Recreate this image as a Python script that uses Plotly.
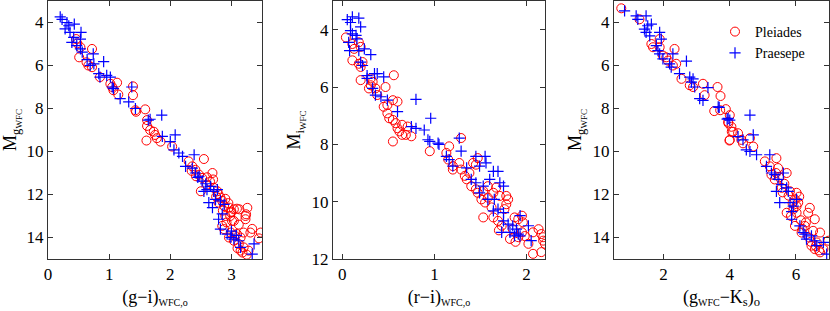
import plotly.graph_objects as go

# ---------------- Panel 1: (g-i) vs M_g ----------------
gi_ple = [0.46,0.48,0.53,0.72,0.51,0.63,0.66,0.72,0.85,1.02,1.13,1.05,1.07,1.15,1.39,1.39,1.43,1.44,1.59,1.62,
          1.62,1.67,1.73,1.61,1.75,1.78,1.84,2.03,2.30,2.55,2.36,2.41,2.47,2.52,2.69,2.50,2.60,2.71,2.77,2.79,
          2.82,2.85,2.79,2.88,2.96,3.04,3.09,2.99,2.90,3.23,3.23,3.01,2.85,2.88,2.99,3.09,3.20,3.31,2.96,3.04,
          3.12,3.20,3.28,3.15,3.45,2.60,2.65,2.75,2.90,2.95,3.00,2.92,3.05,3.15,3.10,3.18,3.25,2.98,2.86,3.12,
          2.70,2.35,2.42,3.26,3.13,3.24,3.04,3.34,3.48]
Mg_ple = [4.77,4.97,5.15,5.23,5.62,5.85,6.00,6.08,6.54,6.85,6.80,7.00,7.15,7.35,6.97,7.38,8.08,8.15,8.04,8.54,
          8.81,9.00,9.08,9.49,9.23,9.38,9.54,9.77,10.46,10.35,10.69,10.85,11.08,11.23,11.00,11.85,11.54,11.69,11.85,12.00,
          12.15,12.30,12.38,12.54,12.61,12.69,12.66,12.84,13.00,13.00,13.15,13.23,13.46,13.61,13.77,13.84,13.77,13.77,14.00,14.15,
          14.30,14.46,14.61,14.61,14.04,11.20,11.40,12.10,12.20,12.40,12.80,13.30,13.90,14.00,14.50,14.70,14.80,13.00,12.75,13.40,
          11.30,10.90,11.15,12.62,12.69,12.92,13.23,13.60,13.77]
gi_pra = [0.20,0.23,0.31,0.34,0.43,0.28,0.36,0.54,0.42,0.53,0.39,0.47,0.53,0.56,0.74,0.91,0.64,0.69,0.75,0.83,
          0.85,0.96,1.02,1.05,1.07,1.18,1.32,1.37,1.43,1.64,1.67,1.86,1.87,2.00,2.08,2.06,2.14,2.20,2.39,2.25,
          2.36,2.41,2.47,2.52,2.55,2.60,2.66,2.71,2.77,2.63,2.69,2.74,2.82,2.88,2.79,2.82,2.93,2.99,3.04,3.12,
          3.15,3.34,3.37,2.58,2.45,2.85,3.00,3.08]
Mg_pra = [3.74,3.85,4.00,4.15,4.08,4.30,4.46,4.46,4.69,4.77,4.92,5.08,5.23,5.38,5.46,5.82,5.73,6.00,5.92,6.38,
          6.54,6.46,6.54,7.00,7.08,7.54,7.69,7.00,8.00,8.54,8.50,8.31,9.30,9.54,9.23,9.92,10.07,10.23,10.15,10.69,
          10.77,11.00,11.15,11.38,11.85,11.77,11.62,11.85,11.77,12.38,12.61,12.23,12.30,12.46,13.15,13.61,13.84,14.00,14.08,14.15,
          14.46,14.77,14.30,11.50,11.20,12.90,13.70,13.90]

# ---------------- Panel 2: (r-i) vs M_i ----------------
ri_ple = [0.04,0.11,0.18,0.13,0.20,0.11,0.18,0.20,0.22,0.20,0.31,0.33,0.31,0.29,0.36,0.47,0.56,0.38,0.45,0.49,
          0.55,0.60,0.49,0.51,0.55,0.58,0.65,0.71,0.60,0.62,0.65,0.69,0.75,0.55,0.95,1.29,1.16,1.13,1.15,1.20,
          1.20,1.27,1.29,1.38,1.35,1.42,1.45,1.47,1.40,1.45,1.47,1.53,1.58,1.51,1.55,1.58,1.64,1.67,1.71,1.78,
          1.80,1.78,1.53,1.64,1.69,1.73,1.76,1.85,1.91,1.87,1.91,1.95,1.96,1.95,2.07,2.13,2.16,2.18,2.18,2.20,
          2.16,2.07,2.02,1.33,1.62,1.82,1.88,1.70,1.98]
Mi_ple = [4.27,4.50,4.44,4.67,4.60,5.07,5.19,5.30,5.13,5.76,5.70,5.82,5.94,6.05,6.05,6.00,5.59,6.28,6.69,6.63,
          6.46,6.51,6.92,7.09,7.15,7.26,7.32,7.38,7.44,7.55,7.67,7.67,7.72,7.90,8.24,7.78,8.07,8.30,8.53,8.76,
          8.88,8.65,8.88,9.00,9.22,8.65,8.71,8.48,9.46,9.57,9.69,9.63,9.46,9.92,10.03,9.86,9.69,9.51,9.80,9.80,
          9.92,10.09,10.55,10.55,10.67,10.84,10.26,10.96,11.24,10.55,10.61,10.49,10.72,11.07,11.07,10.96,11.13,11.24,11.36,11.47,
          11.76,11.82,11.47,9.10,10.20,11.30,11.40,11.00,11.20]
ri_pra = [0.055,0.11,0.18,0.09,0.20,0.09,0.11,0.15,0.07,0.16,0.08,0.18,0.24,0.31,0.20,0.22,0.27,0.35,0.38,0.45,
          0.27,0.33,0.36,0.42,0.49,0.60,0.80,0.96,0.75,0.80,0.89,0.93,0.95,1.04,1.05,1.27,1.29,1.13,1.16,1.20,
          1.35,1.45,1.49,1.55,1.56,1.64,1.69,1.40,1.45,1.53,1.60,1.71,1.75,1.49,1.58,1.65,1.64,1.69,1.75,1.75,
          1.73,1.80,1.85,1.89,1.82,1.87,1.91,1.93,2.02,2.05,1.93]
Mi_pra = [3.65,3.55,3.60,3.75,3.90,4.03,4.15,4.20,4.44,4.32,4.73,4.73,4.67,4.87,5.13,5.25,5.60,5.53,5.53,5.65,
          5.70,6.05,6.28,6.34,6.46,6.86,6.43,7.09,7.38,7.44,7.50,7.84,7.90,7.96,8.00,7.78,8.24,8.42,8.53,8.76,
          8.82,8.42,8.76,8.42,8.65,8.94,8.94,9.22,9.34,9.46,9.22,9.34,9.46,9.69,9.92,9.92,10.32,10.26,10.38,10.67,
          11.07,10.78,10.84,10.96,11.07,11.19,11.13,11.19,10.84,11.36,10.49]

# ---------------- Panel 3: (g-Ks) vs M_g ----------------
gk_ple = [0.72,1.27,1.63,1.68,1.88,1.88,2.33,1.98,2.08,2.13,2.28,2.38,2.54,2.89,2.79,3.19,3.24,3.63,3.72,3.53,
          3.71,3.88,3.96,4.06,3.99,4.00,3.95,4.05,4.10,4.25,4.00,4.35,4.40,4.61,4.71,5.06,5.21,5.41,5.46,5.26,
          5.36,5.72,5.57,5.82,6.02,5.97,6.07,6.02,5.92,6.02,5.72,6.42,6.37,6.57,5.97,6.27,6.17,6.52,6.73,6.63,
          6.47,6.57,6.83,6.73,6.98,5.50,5.65,5.78,5.90,6.10,6.15,6.30,6.40,6.60,5.85,6.20,6.45,6.70,5.40,5.60]
Mgk_ple = [3.34,3.85,5.00,5.15,5.15,4.77,5.23,5.54,5.62,5.77,6.00,5.92,6.62,7.00,6.92,6.85,7.38,7.00,7.42,8.12,
           8.08,8.03,8.69,9.08,9.49,8.31,8.62,8.85,9.08,9.15,9.46,9.46,9.62,9.38,9.77,10.46,10.69,10.31,10.77,11.08,
           11.30,11.00,11.69,11.85,11.92,12.23,12.38,12.54,12.69,12.85,12.85,12.62,12.85,13.15,13.46,13.46,13.77,13.69,13.77,14.23,
           14.38,14.54,14.54,14.69,14.15,11.20,11.50,12.05,12.40,12.10,13.20,13.30,14.00,14.40,13.00,13.60,14.20,14.60,11.00,11.90]
gk_pra = [0.82,1.17,1.22,1.47,1.42,1.52,1.63,1.47,1.58,1.88,1.93,1.78,1.83,1.88,2.28,1.98,2.18,2.23,2.69,2.48,
          2.79,2.89,2.84,2.94,3.34,3.09,3.19,3.65,3.95,4.00,4.61,4.25,4.40,4.71,4.50,4.61,4.81,5.11,5.21,5.26,
          5.36,5.46,5.57,5.62,5.72,5.77,5.41,5.51,5.82,5.92,5.87,6.02,6.12,6.22,6.27,6.32,6.47,6.57,6.63,6.83,
          6.93,5.87,3.68,3.92]
Mgk_pra = [3.46,3.69,3.85,3.69,4.31,4.15,4.08,4.46,4.62,4.46,4.77,5.08,5.31,5.46,5.46,5.69,5.92,6.08,5.80,6.38,
           6.54,6.62,6.77,7.00,7.03,7.54,7.62,7.92,8.46,8.54,8.31,9.31,9.46,9.23,9.92,10.00,10.15,10.69,10.15,11.00,
           11.08,11.30,11.54,11.00,11.69,11.85,11.85,12.38,12.38,12.54,13.15,12.23,13.46,13.77,13.85,14.08,13.92,14.15,14.38,14.23,
           14.77,12.80,7.95,8.49]

RED = "#ff0000"
BLUE = "#0000ff"
SERIF = "Liberation Serif"

def ple(x, y, xa, ya, show):
    return go.Scatter(x=x, y=y, xaxis=xa, yaxis=ya, mode="markers", name="Pleiades",
                      showlegend=show, legendgroup="ple",
                      marker=dict(symbol="circle-open", size=9, color=RED, line=dict(width=1, color=RED)))

def pra(x, y, xa, ya, show):
    return go.Scatter(x=x, y=y, xaxis=xa, yaxis=ya, mode="markers", name="Praesepe",
                      showlegend=show, legendgroup="pra",
                      marker=dict(symbol="cross-thin-open", size=8, color=BLUE, line=dict(width=1.2, color=BLUE)))

fig = go.Figure()
fig.add_trace(ple(gi_ple, Mg_ple, "x", "y", False))
fig.add_trace(pra(gi_pra, Mg_pra, "x", "y", False))
fig.add_trace(ple(ri_ple, Mi_ple, "x2", "y2", False))
fig.add_trace(pra(ri_pra, Mi_pra, "x2", "y2", False))
fig.add_trace(ple(gk_ple, Mgk_ple, "x3", "y3", True))
fig.add_trace(pra(gk_pra, Mgk_pra, "x3", "y3", True))

W, H = 830, 311
ydom = [52 / H, 1 - 1 / H]

def ax(dom, rng, dtick, title, anchor, standoff):
    return dict(domain=dom, range=rng, dtick=dtick, tick0=0, anchor=anchor, automargin=False,
                showline=True, mirror="ticks", linecolor="#333", linewidth=1,
                ticks="inside", ticklen=5, tickcolor="#333", tickwidth=1,
                showgrid=False, zeroline=False,
                tickfont=dict(family=SERIF, size=17, color="black"),
                title=dict(text=title, font=dict(family=SERIF, size=18, color="black"), standoff=standoff))

sub = "<sub><span style='font-size:10px'>%s</span></sub>"
ylab_g = "M<sub>g<sub><span style='font-size:9px'>WFC</span></sub></sub>"
ylab_i = "M<sub>i<sub><span style='font-size:9px'>WFC</span></sub></sub>"
fig.update_layout(
    width=W, height=H, paper_bgcolor="white", plot_bgcolor="white",
    margin=dict(l=0, r=0, t=0, b=0, autoexpand=False),
    xaxis=ax([48 / W, 262 / W], [0, 3.5], 1, "(g−i)" + sub % "WFC,o", "y", 6),
    yaxis=ax(ydom, [15, 3], 2, ylab_g, "x", 6),
    xaxis2=ax([333 / W, 545 / W], [-0.1, 2.2], 1, "(r−i)" + sub % "WFC,o", "y2", 6),
    yaxis2=ax(ydom, [12, 3], 2, ylab_i, "x2", 6),
    xaxis3=ax([614 / W, 829 / W], [0.5, 7.0], 2, "(g" + sub % "WFC" + "−K<sub>s</sub>)<sub>o</sub>", "y3", 6),
    yaxis3=ax(ydom, [15, 3], 2, ylab_g, "x3", 6),
    legend=dict(x=715 / W, y=1 - 16 / H, xanchor="left", yanchor="top",
                font=dict(family=SERIF, size=14, color="black"),
                bgcolor="rgba(0,0,0,0)", borderwidth=0, itemwidth=30, tracegroupgap=0),
)

fig.write_html("out.html", config={"displayModeBar": False},
               post_script="document.body.style.margin='0';")
